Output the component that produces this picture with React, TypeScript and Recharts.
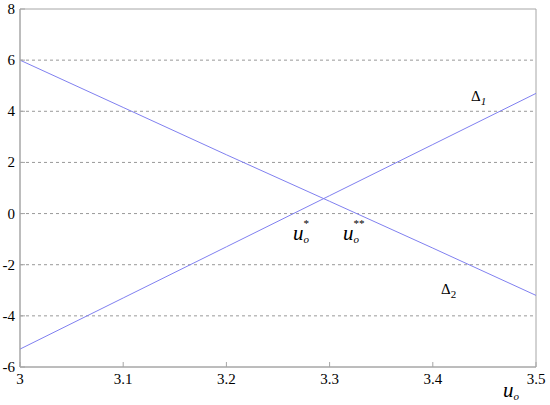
import React from "react";
import {
  LineChart,
  Line,
  XAxis,
  YAxis,
  CartesianGrid,
  ReferenceArea,
} from "recharts";

const uValues = [3, 3.1, 3.2, 3.3, 3.4, 3.5];
const delta1 = [-5.3, -3.3, -1.3, 0.7, 2.7, 4.7];
const delta2 = [6, 4.15, 2.3, 0.48, -1.35, -3.2];
const xTicks = [3, 3.1, 3.2, 3.3, 3.4, 3.5];
const yTicks = [-6, -4, -2, 0, 2, 4, 6, 8];
const gridLevels = [-4, -2, 0, 2, 4, 6];

const data = uValues.map((u, i) => ({ u, d1: delta1[i], d2: delta2[i] }));

const FONT = "'Liberation Serif', 'Times New Roman', 'DejaVu Serif', serif";
const BOX = "#a6a6a6";
const LINE = "#8080f0";

const noLabel = () => <g />;

// tick label drawn by hand so the serif font and black fill stick
const XTick = (props: any) => {
  const { x, y, payload } = props;
  return (
    <text x={x} y={y} dy={10} textAnchor="middle" fill="#000" fontSize={15} fontFamily={FONT}>
      {String(payload.value)}
    </text>
  );
};

const YTick = (props: any) => {
  const { x, y, payload } = props;
  return (
    <text x={x} y={y} dy={5} textAnchor="end" fill="#000" fontSize={15} fontFamily={FONT}>
      {String(payload.value)}
    </text>
  );
};

export default function App() {
  return (
    <div
      style={{
        position: "absolute",
        left: 0,
        top: 0,
        width: 550,
        height: 405,
        background: "#fff",
        fontFamily: FONT,
      }}
    >
      <LineChart
        width={550}
        height={405}
        data={data}
        margin={{ top: 9, right: 14, left: 0, bottom: 0 }}
      >
        <CartesianGrid
          vertical={false}
          horizontalValues={gridLevels}
          stroke="#999"
          strokeDasharray="3 3"
        />
        <XAxis
          dataKey="u"
          type="number"
          domain={[3, 3.5]}
          ticks={xTicks}
          height={38}
          axisLine={{ stroke: BOX }}
          tickLine={{ stroke: BOX }}
          tickSize={-5}
          tickMargin={12}
          tick={XTick}
        />
        <XAxis
          xAxisId="top"
          orientation="top"
          dataKey="u"
          type="number"
          domain={[3, 3.5]}
          ticks={xTicks}
          height={0}
          axisLine={{ stroke: BOX }}
          tickLine={{ stroke: BOX }}
          tickSize={-5}
          tick={noLabel}
        />
        <YAxis
          type="number"
          domain={[-6, 8]}
          ticks={yTicks}
          width={20}
          axisLine={{ stroke: BOX }}
          tickLine={{ stroke: BOX }}
          tickSize={-5}
          tickMargin={10}
          tick={YTick}
        />
        <YAxis
          yAxisId="right"
          orientation="right"
          type="number"
          domain={[-6, 8]}
          ticks={yTicks}
          width={0}
          axisLine={{ stroke: BOX }}
          tickLine={{ stroke: BOX }}
          tickSize={-5}
          tick={noLabel}
        />
        <ReferenceArea x1={3} x2={3.5} y1={-6} y2={8} fill="none" stroke={BOX} />
        <Line
          dataKey="d1"
          stroke={LINE}
          strokeWidth={1}
          dot={false}
          type="linear"
          isAnimationActive={false}
        />
        <Line
          dataKey="d2"
          stroke={LINE}
          strokeWidth={1}
          dot={false}
          type="linear"
          isAnimationActive={false}
        />
      </LineChart>
      <svg
        width={550}
        height={405}
        style={{ position: "absolute", left: 0, top: 0, pointerEvents: "none" }}
        fontFamily={FONT}
      >
        <text x={471} y={101} fontSize={15} fill="#000">
          Δ<tspan fontStyle="italic" fontSize={11} dy={4}>1</tspan>
        </text>
        <text x={441} y={294} fontSize={15} fill="#000">
          Δ<tspan fontSize={11} dy={4}>2</tspan>
        </text>
        <text x={293} y={240} fontSize={21} fontStyle="italic" fill="#000">
          u<tspan fontSize={11} dy={3}>o</tspan>
          <tspan fontSize={11} dx={-6} dy={-16}>*</tspan>
        </text>
        <text x={343} y={240} fontSize={21} fontStyle="italic" fill="#000">
          u<tspan fontSize={11} dy={3}>o</tspan>
          <tspan fontSize={11} dx={-6} dy={-16}>**</tspan>
        </text>
        <text x={503} y={397} fontSize={21} fontStyle="italic" fill="#000">
          u<tspan fontSize={11} dy={3}>o</tspan>
        </text>
      </svg>
    </div>
  );
}
